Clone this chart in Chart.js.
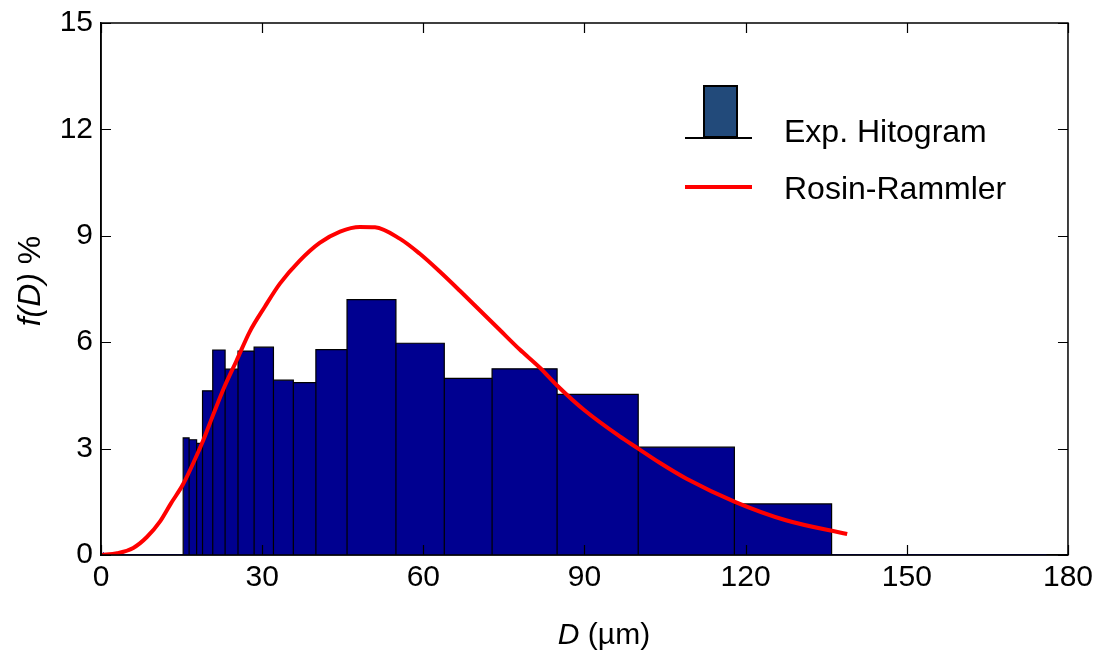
<!DOCTYPE html>
<html>
<head>
<meta charset="utf-8">
<script src="https://cdn.jsdelivr.net/npm/chart.js@4.4.1/dist/chart.umd.min.js"></script>
<style>
  html, body { margin: 0; padding: 0; background: #fff; }
  #wrap { width: 1101px; height: 655px; }
</style>
</head>
<body>
<div id="wrap"><canvas id="psdChart" width="1101" height="655"></canvas></div>
<script>
// Histogram bins (edges in µm) and their heights f(D) %
const binEdges = [15.3, 16.4, 17.8, 18.9, 20.8, 23.1, 25.5, 28.5, 32.1, 35.8, 40.0, 45.8, 54.9, 63.9, 72.8, 84.9, 100.0, 117.9, 136.0];
const binHeights = [3.3, 3.25, 3.15, 4.63, 5.78, 5.24, 5.75, 5.86, 4.93, 4.86, 5.79, 7.2, 5.97, 4.98, 5.25, 4.53, 3.04, 1.44];

// Rosin-Rammler curve
const curveD = [0, 3, 6, 8.5, 11, 13, 15.3, 17.5, 19, 21, 23, 25.2, 27.7, 30.5, 33.3, 37, 40.7, 44.5, 48.2, 51, 55.6, 59.3, 63, 66.8, 70.5, 74.2, 77.9, 81.7, 84.9, 90, 96.5, 100, 104, 109, 118, 127.5, 138.9];
const curveF = [0, 0.05, 0.2, 0.5, 0.95, 1.45, 2.0, 2.7, 3.22, 4.0, 4.75, 5.47, 6.3, 7.0, 7.65, 8.3, 8.8, 9.12, 9.25, 9.24, 8.92, 8.5, 8.0, 7.45, 6.9, 6.35, 5.8, 5.28, 4.78, 4.08, 3.35, 3.0, 2.6, 2.15, 1.5, 0.98, 0.59];

// zero baseline drawn by the histogram routine
const baseD = [0, 176];
const baseF = [0, 0];

const xTickValues = [0, 30, 60, 90, 120, 150, 180];
const yTickValues = [0, 3, 6, 9, 12, 15];

const fontFamily = "'Liberation Sans', Arial, sans-serif";

// outline of the histogram as one closed step path
const histPoints = [];
binHeights.forEach((h, i) => {
    histPoints.push({ x: binEdges[i], y: 0 });
    histPoints.push({ x: binEdges[i], y: h });
    histPoints.push({ x: binEdges[i + 1], y: h });
    histPoints.push({ x: binEdges[i + 1], y: 0 });
});

const curvePoints = curveD.map((d, i) => ({ x: d, y: curveF[i] }));
const basePoints = baseD.map((d, i) => ({ x: d, y: baseF[i] }));

// inner ticks, box, axis titles and legend
const framePlugin = {
    id: 'frame',
    afterDraw(chart) {
        const { ctx, chartArea: a, scales: { x, y } } = chart;
        ctx.save();
        ctx.strokeStyle = '#000';
        ctx.lineWidth = 1.2;
        ctx.beginPath();
        xTickValues.forEach(v => {
            const px = Math.round(x.getPixelForValue(v)) + 0.5;
            ctx.moveTo(px, a.bottom); ctx.lineTo(px, a.bottom - 10);
            ctx.moveTo(px, a.top); ctx.lineTo(px, a.top + 10);
        });
        yTickValues.forEach(v => {
            const py = Math.round(y.getPixelForValue(v)) + 0.5;
            ctx.moveTo(a.left, py); ctx.lineTo(a.left + 10, py);
            ctx.moveTo(a.right, py); ctx.lineTo(a.right - 10, py);
        });
        ctx.stroke();

        ctx.lineWidth = 1.5;
        ctx.strokeRect(a.left, a.top, a.right - a.left, a.bottom - a.top);

        ctx.fillStyle = '#000';
        ctx.textBaseline = 'alphabetic';

        // x title: D (µm)
        const italic = 'italic 30px ' + fontFamily;
        const normal = '30px ' + fontFamily;
        ctx.font = italic;
        const wD = ctx.measureText('D').width;
        ctx.font = normal;
        const wRest = ctx.measureText(' (µm)').width;
        let tx = 604 - (wD + wRest) / 2;
        ctx.textAlign = 'left';
        ctx.font = italic;
        ctx.fillText('D', tx, 644);
        ctx.font = normal;
        ctx.fillText(' (µm)', tx + wD, 644);

        // y title: f(D) %
        const italicY = 'italic 32px ' + fontFamily;
        const normalY = '32px ' + fontFamily;
        ctx.save();
        ctx.translate(40, 281);
        ctx.rotate(-Math.PI / 2);
        ctx.font = italicY;
        const wf = ctx.measureText('f(D)').width;
        ctx.font = normalY;
        const wp = ctx.measureText(' %').width;
        const ty = -(wf + wp) / 2;
        ctx.font = italicY;
        ctx.fillText('f(D)', ty, 0);
        ctx.font = normalY;
        ctx.fillText(' %', ty + wf, 0);
        ctx.restore();

        // legend
        ctx.fillStyle = '#224a7a';
        ctx.fillRect(704, 86, 33, 51);
        ctx.lineWidth = 2;
        ctx.strokeStyle = '#000';
        ctx.strokeRect(704, 86, 33, 51);
        ctx.beginPath();
        ctx.moveTo(685, 138); ctx.lineTo(752, 138);
        ctx.stroke();

        ctx.strokeStyle = '#ff0000';
        ctx.lineWidth = 4;
        ctx.beginPath();
        ctx.moveTo(685, 187); ctx.lineTo(752, 187);
        ctx.stroke();

        ctx.fillStyle = '#000';
        ctx.font = '32px ' + fontFamily;
        ctx.fillText('Exp. Hitogram', 784, 142);
        ctx.fillText('Rosin-Rammler', 784, 199);
        ctx.restore();
    }
};

const ctx = document.getElementById('psdChart').getContext('2d');

new Chart(ctx, {
    type: 'line',
    data: {
        datasets: [
            {
                label: 'Rosin-Rammler',
                data: curvePoints,
                borderColor: '#ff0000',
                borderWidth: 4,
                pointRadius: 0,
                cubicInterpolationMode: 'monotone',
                fill: false,
                order: 0
            },
            {
                label: 'origin',
                data: [{ x: 0, y: 0 }],
                showLine: false,
                pointStyle: 'star',
                pointRadius: 4,
                pointBorderColor: '#0000ff',
                pointBorderWidth: 1,
                order: 1
            },
            {
                label: 'Exp. Hitogram',
                data: histPoints,
                borderColor: '#000',
                borderWidth: 1.2,
                backgroundColor: '#000090',
                pointRadius: 0,
                tension: 0,
                fill: 'origin',
                order: 2
            },
            {
                label: 'baseline',
                data: basePoints,
                borderColor: '#0000cc',
                borderWidth: 1.5,
                pointRadius: 0,
                fill: false,
                order: 3
            }
        ]
    },
    options: {
        responsive: false,
        animation: false,
        layout: { padding: { left: 0, top: 20, right: 33, bottom: 0 } },
        plugins: {
            legend: { display: false },
            tooltip: { enabled: false }
        },
        scales: {
            x: {
                type: 'linear',
                min: 0,
                max: 180,
                afterBuildTicks: scale => { scale.ticks = xTickValues.map(v => ({ value: v })); },
                afterFit: scale => { scale.height = 100; },
                grid: { drawOnChartArea: false, drawTicks: false },
                border: { color: '#000', width: 1.5 },
                ticks: {
                    color: '#000',
                    padding: 8,
                    maxRotation: 0,
                    font: { family: fontFamily, size: 30, lineHeight: 1 }
                }
            },
            y: {
                min: 0,
                max: 15,
                afterBuildTicks: scale => { scale.ticks = yTickValues.map(v => ({ value: v })); },
                afterFit: scale => { scale.width = 101; },
                grid: { drawOnChartArea: false, drawTicks: false },
                border: { color: '#000', width: 1.5 },
                ticks: {
                    color: '#000',
                    padding: 8,
                    font: { family: fontFamily, size: 30, lineHeight: 1 }
                }
            }
        }
    },
    plugins: [framePlugin]
});
</script>
</body>
</html>
